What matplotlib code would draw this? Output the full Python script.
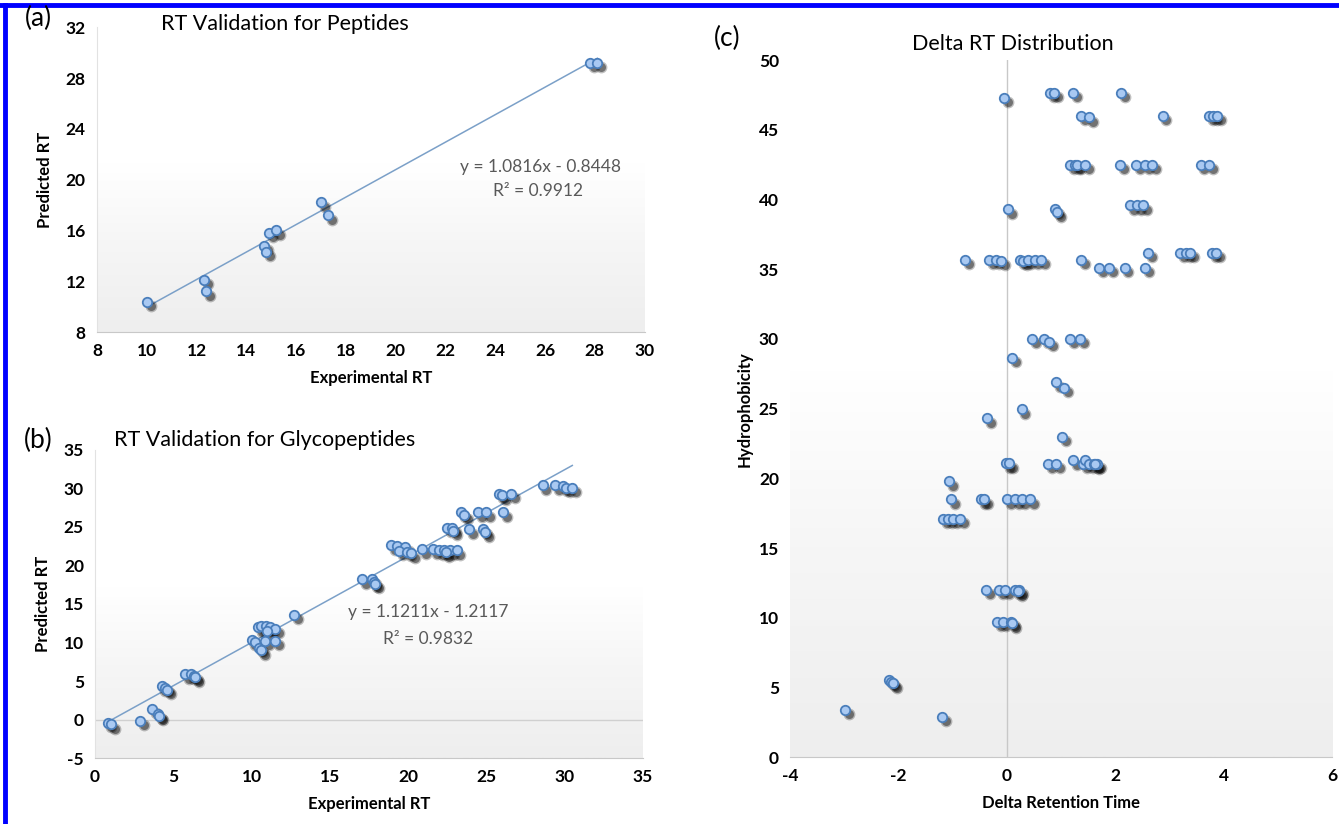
import matplotlib
matplotlib.use("Agg")
import matplotlib.pyplot as plt
import numpy as np
from matplotlib.colors import LinearSegmentedColormap
from matplotlib.lines import Line2D
from matplotlib.transforms import offset_copy

plt.rcParams["font.family"] = ["Lato", "DejaVu Sans"]

# (a) peptides
pep_exp = [10.0, 12.3, 12.4, 14.7, 14.8, 14.9, 15.2, 17.0, 17.3, 27.8, 28.1]
pep_pred = [10.4, 12.1, 11.2, 14.8, 14.3, 15.8, 16.0, 18.2, 17.2, 29.2, 29.2]
pep_fit = (1.0816, -0.8448)

# (b) glycopeptides
gly_exp = [0.8, 1.0, 2.85, 3.65, 4.0, 4.1, 4.25, 4.5, 4.6,
           5.75, 6.1, 6.35, 6.4, 10.0, 10.2, 10.5, 10.6,
           10.4, 10.6, 10.9, 11.2, 11.5, 10.85, 11.5, 11.0, 12.7,
           17.05, 17.7, 17.8, 17.9,
           18.9, 19.3, 19.8, 19.4, 19.95, 20.2,
           20.9, 21.6, 22.0, 22.3, 22.7, 23.1, 22.4,
           22.5, 22.8, 22.9, 23.4, 23.6, 24.5, 25.0, 26.1,
           23.9, 24.8, 24.9, 25.8, 26.0, 26.6,
           28.6, 29.4, 29.9, 30.1, 30.5]
gly_pred = [-0.4, -0.6, -0.15, 1.4, 0.7, 0.5, 4.3, 4.1, 3.9,
            5.9, 5.9, 5.7, 5.5, 10.3, 10.1, 9.3, 9.0,
            12.0, 12.1, 12.1, 12.0, 11.8, 10.2, 10.2, 11.5, 13.6,
            18.2, 18.2, 17.8, 17.6,
            22.6, 22.5, 22.4, 21.9, 21.8, 21.6,
            22.1, 22.1, 22.0, 22.0, 22.0, 22.0, 21.7,
            24.9, 24.9, 24.5, 26.9, 26.6, 26.9, 26.9, 26.9,
            24.7, 24.7, 24.3, 29.3, 29.1, 29.3,
            30.4, 30.4, 30.3, 30.1, 30.1]
gly_fit = (1.1211, -1.2117)

# (c) delta RT vs hydrophobicity
delta_rt = [-0.05, 0.8, 0.87, 1.22, 2.1,
            1.37, 1.52, 2.87, 3.73, 3.8, 3.88,
            1.16, 1.25, 1.3, 1.44, 2.09, 2.38, 2.55, 2.68, 3.57, 3.73,
            0.02, 0.89, 0.92, 2.27, 2.4, 2.51,
            -0.78, -0.33, -0.21, -0.11, 0.24, 0.3, 0.38, 0.51, 0.63, 1.37,
            1.7, 1.88, 2.17, 2.55, 2.6, 3.19, 3.3, 3.38, 3.78, 3.86,
            0.46, 0.68, 0.78, 1.16, 1.35,
            0.09, 0.91, 1.06, 0.27, -0.36, 1.01,
            -0.02, 0.04, 0.76, 0.91, 1.22, 1.41, 1.44, 1.52, 1.6, 1.67, 1.62,
            -1.06, -1.03, -0.47, -0.42, 0.0, 0.15, 0.27, 0.42,
            -1.18, -1.09, -0.99, -0.87,
            -0.38, -0.15, -0.04, 0.15, 0.23, 0.2,
            -0.19, -0.08, 0.08, 0.1,
            -2.18, -2.13, -2.1, -2.98, -1.19]
hydro = [47.3, 47.65, 47.65, 47.65, 47.65,
         46.0, 45.9, 46.0, 46.0, 46.0, 46.0,
         42.5, 42.5, 42.5, 42.5, 42.5, 42.5, 42.5, 42.5, 42.5, 42.5,
         39.3, 39.3, 39.1, 39.6, 39.6, 39.6,
         35.7, 35.7, 35.7, 35.6, 35.7, 35.6, 35.7, 35.7, 35.7, 35.7,
         35.1, 35.1, 35.1, 35.1, 36.2, 36.2, 36.2, 36.2, 36.2, 36.2,
         30.0, 30.0, 29.8, 30.0, 30.0,
         28.65, 26.9, 26.5, 24.95, 24.3, 23.0,
         21.1, 21.1, 21.05, 21.05, 21.3, 21.05, 21.3, 21.05, 21.05, 21.05, 21.0,
         19.8, 18.5, 18.5, 18.5, 18.5, 18.5, 18.5, 18.5,
         17.1, 17.1, 17.1, 17.1,
         12.0, 12.0, 12.0, 12.0, 12.0, 11.9,
         9.7, 9.7, 9.7, 9.6,
         5.55, 5.4, 5.3, 3.4, 2.9]

fig = plt.figure(figsize=(13.39, 8.24), dpi=100)

bg_cmap = LinearSegmentedColormap.from_list(
    "bg", [(0.0, "#eeeeee"), (0.3, "#f6f6f6"), (0.55, "#ffffff"), (1.0, "#ffffff")])


def style_axes(ax, xticks, yticks, show_left=True):
    grad = np.linspace(0, 1, 256).reshape(-1, 1)
    ax.imshow(grad, extent=[0, 1, 0, 1], transform=ax.transAxes, aspect="auto",
              cmap=bg_cmap, origin="lower", zorder=0)
    for s in ["top", "right"]:
        ax.spines[s].set_visible(False)
    ax.spines["bottom"].set_color("#c8c8c8")
    ax.spines["left"].set_color("#e2e2e2")
    ax.spines["left"].set_visible(show_left)
    ax.set_xticks(xticks, labels=[str(t) for t in xticks])
    ax.set_yticks(yticks, labels=[str(t) for t in yticks])
    ax.tick_params(length=0, labelsize=12.5, pad=8)


def draw_points(ax, x, y):
    shadow = offset_copy(ax.transData, fig=fig, x=2.8, y=-3.2, units="points")
    ax.plot(x, y, "o", ms=8.5, color="black", alpha=0.25, mec="none",
            transform=shadow, zorder=3)
    ax.plot(x, y, "o", ms=6.5, color="black", alpha=0.4, mec="none",
            transform=shadow, zorder=3)
    ax.plot(x, y, "o", ms=6.8, mfc="#a9c9f2", mec="#4a7ebb", mew=1.3, zorder=4)


# ---- (a)
ax_a = fig.add_axes([0.0724, 0.597, 0.409, 0.370])
ax_a.set_xlim(8, 30)
ax_a.set_ylim(8, 32)
style_axes(ax_a, list(range(8, 31, 2)), list(range(8, 33, 4)))
xf = np.array([min(pep_exp), max(pep_exp)])
ax_a.plot(xf, pep_fit[0] * xf + pep_fit[1], color="#7ba0c8", lw=1.1, zorder=2)
draw_points(ax_a, pep_exp, pep_pred)
ax_a.text(25.8, 21.0, "y = 1.0816x - 0.8448", ha="center", va="center",
          fontsize=12.5, color="#595959")
ax_a.text(25.7, 19.1, "R² = 0.9912", ha="center", va="center",
          fontsize=12.5, color="#595959")
ax_a.set_xlabel("Experimental RT", fontsize=12, fontweight="bold", labelpad=8)
ax_a.set_ylabel("Predicted RT", fontsize=12, fontweight="bold", labelpad=9)

# ---- (b)
ax_b = fig.add_axes([0.071, 0.080, 0.409, 0.374])
ax_b.set_xlim(0, 35)
ax_b.set_ylim(-5, 35)
style_axes(ax_b, list(range(0, 36, 5)), list(range(-5, 36, 5)))
ax_b.axhline(0, color="#d0d0d0", lw=1.0, zorder=1)
xf = np.array([min(gly_exp), max(gly_exp)])
ax_b.plot(xf, gly_fit[0] * xf + gly_fit[1], color="#7ba0c8", lw=1.1, zorder=2)
draw_points(ax_b, gly_exp, gly_pred)
ax_b.text(21.3, 13.9, "y = 1.1211x - 1.2117", ha="center", va="center",
          fontsize=12.5, color="#595959")
ax_b.text(21.3, 10.5, "R² = 0.9832", ha="center", va="center",
          fontsize=12.5, color="#595959")
ax_b.set_xlabel("Experimental RT", fontsize=12, fontweight="bold", labelpad=8)
ax_b.set_ylabel("Predicted RT", fontsize=12, fontweight="bold", labelpad=9)

# ---- (c)
ax_c = fig.add_axes([0.590, 0.081, 0.405, 0.846])
ax_c.set_xlim(-4, 6)
ax_c.set_ylim(0, 50)
style_axes(ax_c, list(range(-4, 7, 2)), list(range(0, 51, 5)), show_left=False)
ax_c.axvline(0, color="#c8c8c8", lw=1.0, zorder=1)
draw_points(ax_c, delta_rt, hydro)
ax_c.set_xlabel("Delta Retention Time", fontsize=12, fontweight="bold", labelpad=8)
ax_c.set_ylabel("Hydrophobicity", fontsize=12, fontweight="bold", labelpad=4)

# titles and panel letters
fig.text(285 / 1339, 1 - 24 / 824, "RT Validation for Peptides", ha="center",
         va="center", fontsize=15.5)
fig.text(265 / 1339, 1 - 440 / 824, "RT Validation for Glycopeptides", ha="center",
         va="center", fontsize=15.5)
fig.text(1013 / 1339, 1 - 44 / 824, "Delta RT Distribution", ha="center",
         va="center", fontsize=15.5)
fig.text(38 / 1339, 1 - 18 / 824, "(a)", ha="center", va="center", fontsize=19)
fig.text(38 / 1339, 1 - 440 / 824, "(b)", ha="center", va="center", fontsize=19)
fig.text(727 / 1339, 1 - 38 / 824, "(c)", ha="center", va="center", fontsize=19)

# blue frame on top and left edges
fig.add_artist(Line2D([0, 1], [1 - 5 / 824, 1 - 5 / 824], color="#0000ff", lw=3.5,
                      transform=fig.transFigure))
fig.add_artist(Line2D([5 / 1339, 5 / 1339], [0, 1 - 5 / 824], color="#0000ff", lw=3.5,
                      transform=fig.transFigure))

# bold tick labels (set after the ticks exist)
fig.canvas.draw()
for ax in (ax_a, ax_b, ax_c):
    for lbl in ax.get_xticklabels() + ax.get_yticklabels():
        lbl.set_fontweight("bold")

fig.savefig("out.png", dpi=100)
plt.close(fig)
